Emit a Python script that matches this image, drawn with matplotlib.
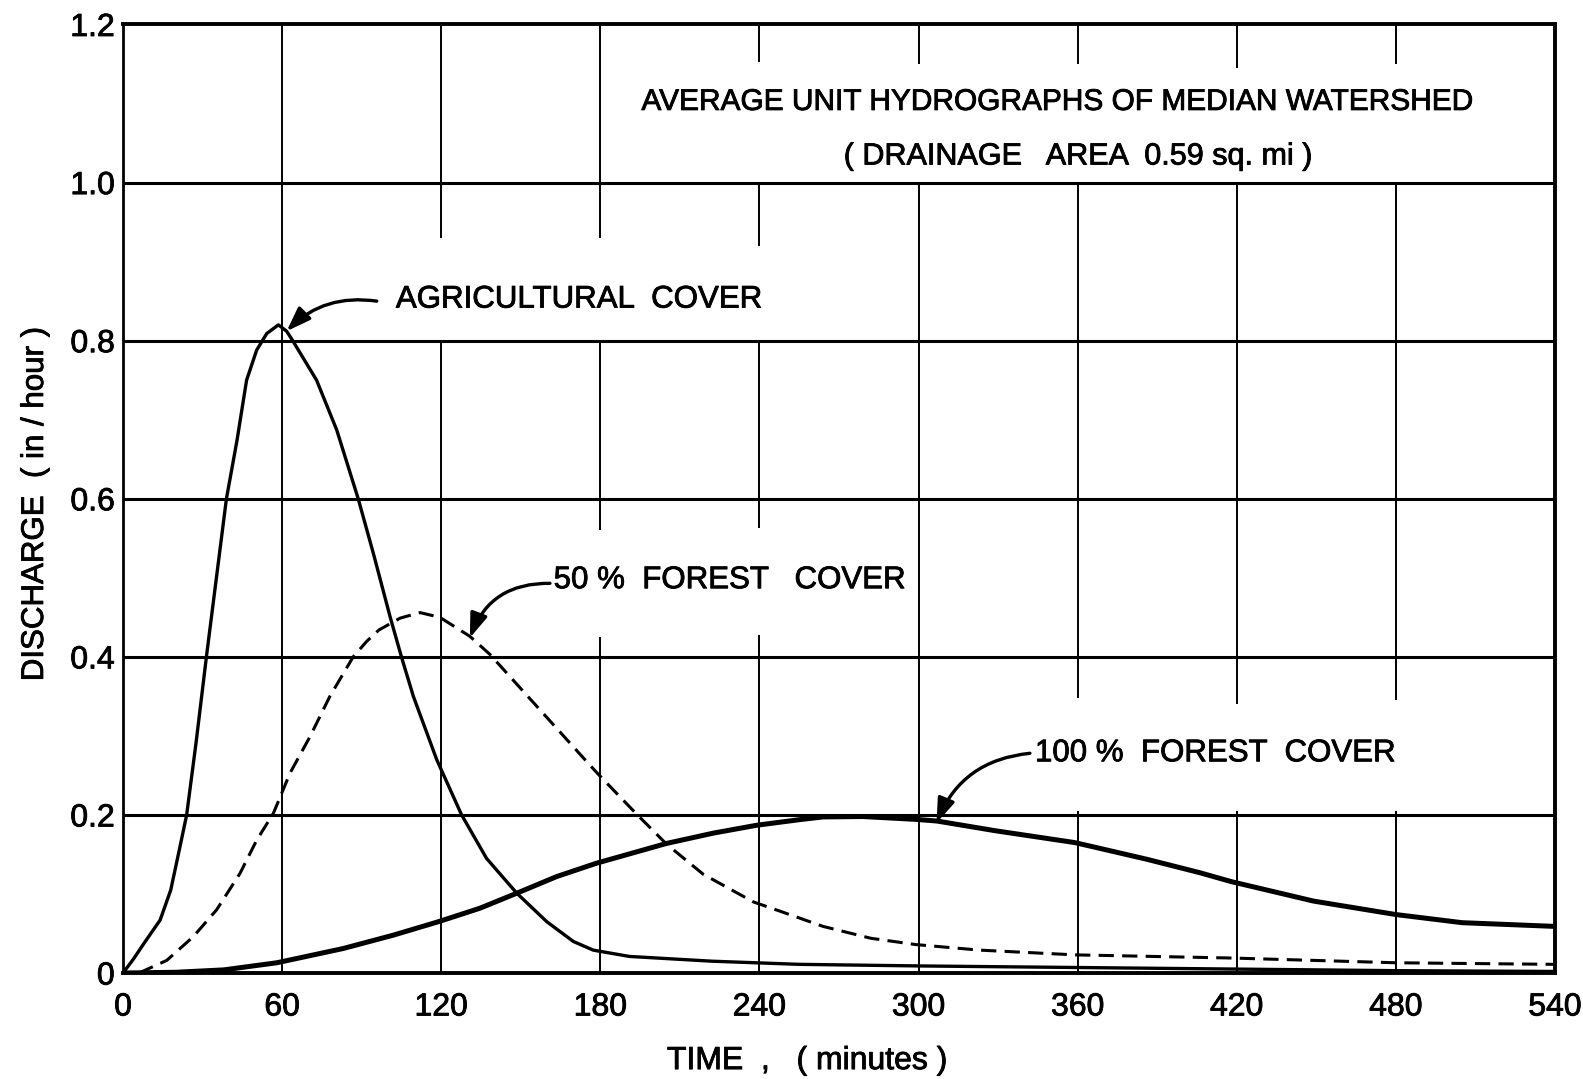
import matplotlib
matplotlib.use('Agg')
import matplotlib.pyplot as plt
import matplotlib.patheffects as pe

plt.rcParams['font.family'] = ['Liberation Sans', 'DejaVu Sans']

# time (min) vs discharge (in/hour)
agri_t = [0, 4, 8, 14, 18, 21.5, 24, 27.5, 31.6, 39, 43, 46.6, 50.4, 54.2, 58.6,
          61.7, 64, 73, 80.6, 88.7, 94.4, 100.7, 105, 109.5, 118.3, 127.7, 137.1,
          148.5, 159.8, 169.8, 177.3, 191, 222, 255, 300, 360, 420, 480, 540]
agri_q = [0, 0.018, 0.038, 0.067, 0.105, 0.16, 0.2, 0.29, 0.404, 0.6, 0.674, 0.75,
          0.788, 0.809, 0.82, 0.812, 0.8, 0.75, 0.687, 0.6, 0.531, 0.451, 0.40,
          0.35, 0.27, 0.2, 0.145, 0.101, 0.065, 0.04, 0.029, 0.021, 0.015, 0.011,
          0.009, 0.007, 0.005, 0.003, 0.002]

half_t = [6, 16.5, 26.5, 35.3, 44.1, 50.4, 56.7, 63, 70.5, 78, 86.8, 92, 96.5, 104.5,
          112, 119.5, 130.8, 138.4, 149.7, 161, 172.3, 178.8, 193.7, 205, 218.8,
          237.7, 248, 264, 282, 299, 323, 359, 418, 480, 540]
half_q = [0, 0.016, 0.046, 0.08, 0.126, 0.168, 0.202, 0.253, 0.299, 0.35, 0.40, 0.42,
          0.434, 0.449, 0.456, 0.45, 0.426, 0.403, 0.361, 0.319, 0.277, 0.253,
          0.201, 0.163, 0.125, 0.09, 0.078, 0.059, 0.044, 0.036, 0.029, 0.023,
          0.019, 0.013, 0.011]

full_t = [0, 20, 38, 58, 83, 102, 119, 134.6, 148.5, 163.5, 178.6, 205, 222.6, 239,
          255, 264, 279, 299, 307, 329, 359, 386, 406, 418, 449, 480, 505, 540]
full_q = [0, 0.001, 0.004, 0.013, 0.031, 0.048, 0.065, 0.082, 0.101, 0.122, 0.139,
          0.164, 0.177, 0.187, 0.194, 0.1975, 0.198, 0.1944, 0.1923, 0.18, 0.165,
          0.144, 0.127, 0.1156, 0.091, 0.074, 0.0637, 0.059]

x_ticks = [0, 60, 120, 180, 240, 300, 360, 420, 480, 540]
y_ticks = [0, 0.2, 0.4, 0.6, 0.8, 1.0, 1.2]
y_ticklabels = ['0', '0.2', '0.4', '0.6', '0.8', '1.0', '1.2']

# vertical rulings are broken where the lettering sits
v_segments = {
    60: [(0, 1.2)],
    120: [(0, 0.8), (0.93, 1.2)],
    180: [(0, 0.425), (0.56, 0.8), (0.93, 1.2)],
    240: [(0, 0.428), (0.563, 0.8), (0.92, 1.0), (1.153, 1.2)],
    300: [(0, 1.0), (1.15, 1.2)],
    360: [(0, 0.205), (0.348, 1.0), (1.15, 1.2)],
    420: [(0, 0.205), (0.34, 1.0), (1.145, 1.2)],
    480: [(0, 0.205), (0.345, 1.0), (1.15, 1.2)],
}

# slightly heavier strokes, like the hand lettering
ink = [pe.withStroke(linewidth=0.6, foreground='black')]

fig = plt.figure(figsize=(15.83, 10.79), dpi=100)
ax = fig.add_axes([0.0777, 0.0982, 0.9046, 0.8791])
ax.set_xlim(0, 540)
ax.set_ylim(0, 1.2)

for y in [0.2, 0.4, 0.6, 0.8, 1.0]:
    ax.hlines(y, 0, 540, color='black', lw=2.2, zorder=1)
for x, segs in v_segments.items():
    for y0, y1 in segs:
        ax.vlines(x, y0, y1, color='black', lw=1.4, zorder=1)

ax.plot(agri_t, agri_q, color='black', lw=2.4, solid_joinstyle='round', zorder=3)
ax.plot(half_t, half_q, color='black', lw=2.2, dashes=(5, 2.7), zorder=3)
ax.plot(full_t, full_q, color='black', lw=3.6, solid_joinstyle='round', zorder=3)

ax.spines['left'].set_linewidth(2.0)
for s in ['top', 'bottom', 'right']:
    ax.spines[s].set_linewidth(2.8)

ax.set_xticks(x_ticks)
ax.set_xticklabels([str(v) for v in x_ticks])
ax.set_yticks(y_ticks)
ax.set_yticklabels(y_ticklabels)
ax.tick_params(axis='both', length=0, labelsize=23)
ax.tick_params(axis='x', pad=14)
ax.tick_params(axis='y', pad=6)
for lab in ax.get_xticklabels() + ax.get_yticklabels():
    lab.set_path_effects(ink)

ax.set_xlabel('TIME  ,   ( minutes )', fontsize=23, path_effects=ink)
ax.xaxis.set_label_coords(0.478, -0.077)
ax.set_ylabel('DISCHARGE  ( in / hour )', fontsize=22.5, path_effects=ink)
ax.yaxis.set_label_coords(-0.051, 0.494)

ax.text(352.4, 1.102, 'AVERAGE UNIT HYDROGRAPHS OF MEDIAN WATERSHED',
        fontsize=21.5, ha='center', va='center', zorder=4, path_effects=ink)
ax.text(360, 1.033, '( DRAINAGE   AREA  0.59 sq. mi )',
        fontsize=22, ha='center', va='center', zorder=4, path_effects=ink)

labels = [
    ('AGRICULTURAL  COVER', (102.9, 0.852), (95.7, 0.85), (61.7, 0.812), 0.25),
    ('50 %  FOREST   COVER', (162.4, 0.497), (161, 0.493), (130.8, 0.424), 0.35),
    ('100 %  FOREST  COVER', (343.9, 0.278), (342, 0.278), (306.8, 0.19), 0.3),
]
for txt, pos, start, tip, rad in labels:
    ax.text(pos[0], pos[1], txt, fontsize=22.5, ha='left', va='center', zorder=4,
            path_effects=ink)
    ax.annotate('', xy=tip, xytext=start,
                arrowprops=dict(arrowstyle='-|>,head_length=0.7,head_width=0.25',
                                connectionstyle='arc3,rad=%s' % rad,
                                color='black', lw=2.4, shrinkA=0, shrinkB=0,
                                mutation_scale=21),
                zorder=4)

plt.savefig('out.png', dpi=100)
plt.close(fig)
